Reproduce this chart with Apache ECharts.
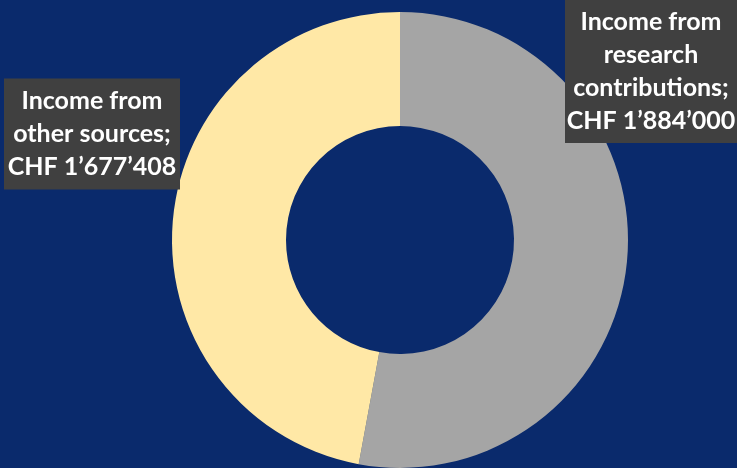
<!DOCTYPE html>
<html>
<head>
<meta charset="utf-8">
<script src="https://cdn.jsdelivr.net/npm/echarts@6/dist/echarts.min.js"></script>
<style>
  html, body { margin: 0; padding: 0; background: #0a2a6c; }
  #chart { width: 737px; height: 468px; }
</style>
</head>
<body>
<div id="chart"></div>
<script>
// Income breakdown (CHF)
const categories = ['Income from research contributions', 'Income from other sources'];
const values = [1884000, 1677408];
const labelTexts = ['Income from\nresearch\ncontributions;\nCHF 1\u2019884\u2019000', 'Income from\nother sources;\nCHF 1\u2019677\u2019408'];
const colors = ['#a5a5a5', '#ffe8a6'];

// Fixed anchor points and widths for the two callout boxes
const labelAnchors = [
  { x: 651, y: 71, w: 164 },
  { x: 92, y: 134, w: 168 }
];

const chart = echarts.init(document.getElementById('chart'), null, { renderer: 'canvas' });

chart.setOption({
  backgroundColor: '#0a2a6c',
  animation: false,
  series: [{
    type: 'pie',
    center: [400, 240],
    radius: [114, 228],
    startAngle: 90,
    clockwise: true,
    silent: true,
    avoidLabelOverlap: false,
    data: categories.map((name, i) => ({
      name: name,
      value: values[i],
      itemStyle: { color: colors[i] },
      label: { formatter: labelTexts[i], width: labelAnchors[i].w }
    })),
    label: {
      show: true,
      position: 'outside',
      alignTo: 'none',
      overflow: 'none',
      color: '#ffffff',
      fontFamily: 'Lato, "Open Sans", sans-serif',
      fontWeight: 'bold',
      fontSize: 25,
      lineHeight: 33,
      align: 'center',
      backgroundColor: '#404040',
      padding: [6, 4, 6, 4]
    },
    labelLine: { show: false },
    labelLayout: function (params) {
      const a = labelAnchors[params.dataIndex];
      return { x: a.x, y: a.y, align: 'center', verticalAlign: 'middle' };
    }
  }]
});
</script>
</body>
</html>
